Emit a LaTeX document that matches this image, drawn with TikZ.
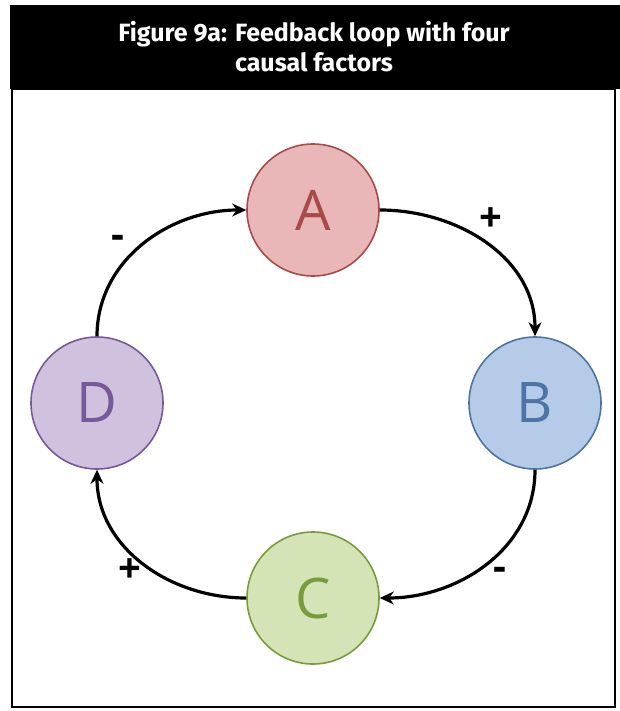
\documentclass[tikz,border=0pt]{standalone}
\usepackage{fontspec}
\setmainfont{Open Sans}
\newfontfamily\headfont{Fira Sans}
\usepackage{tikz}
\usetikzlibrary{arrows.meta}
\definecolor{redfill}{HTML}{E9B7B7}
\definecolor{redline}{HTML}{A84A4A}
\definecolor{bluefill}{HTML}{B5CBE7}
\definecolor{blueline}{HTML}{4C74A6}
\definecolor{greenfill}{HTML}{D5E4B6}
\definecolor{greenline}{HTML}{789C3C}
\definecolor{purplefill}{HTML}{D0C2DF}
\definecolor{purpleline}{HTML}{76599A}

\tikzset{
  factor/.style={circle,minimum size=132pt,inner sep=0pt,line width=1.6pt,
    font=\fontsize{56}{56}\selectfont},
  link/.style={line width=3.2pt,-{Stealth[length=14pt,width=13pt]}},
  sign/.style={font=\fontsize{40}{40}\selectfont\bfseries}
}

\begin{document}
\begin{tikzpicture}[x=1pt,y=-1pt]
  \useasboundingbox (0,0) rectangle (620,711);
  \fill[white] (0,0) rectangle (620,711);
  % title bar and frame
  \fill[black] (10,5) rectangle (620,89);
  \draw[line width=1.8pt] (12,89) rectangle (615,707);
  \node[text=white,align=center,font=\headfont\fontsize{25}{30}\selectfont\bfseries]
    (title) at (314,47) {Figure 9a: Feedback loop with four\\ causal factors};

  % the four factors
  \node[factor,fill=redfill,draw=redline,text=redline] (A) at (313,210) {A};
  \node[factor,fill=bluefill,draw=blueline,text=blueline] (B) at (535,403) {B};
  \node[factor,fill=greenfill,draw=greenline,text=greenline] (C) at (313,598) {C};
  \node[factor,fill=purplefill,draw=purpleline,text=purpleline] (D) at (97,403) {D};

  % causal links
  \draw[link] (A.east) to[out=0,in=90] (B.north);
  \draw[link] (B.south) to[out=-90,in=0] (C.east);
  \draw[link] (C.west) to[out=180,in=-90] (D.south);
  \draw[link] (D.north) to[out=90,in=180] (A.west);

  \node[sign] (sAB) at (491,220) {+};
  \node[sign] (sBC) at (500,574) {-};
  \node[sign] (sCD) at (130,571) {+};
  \node[sign] (sDA) at (118,242) {-};
\end{tikzpicture}
\end{document}
